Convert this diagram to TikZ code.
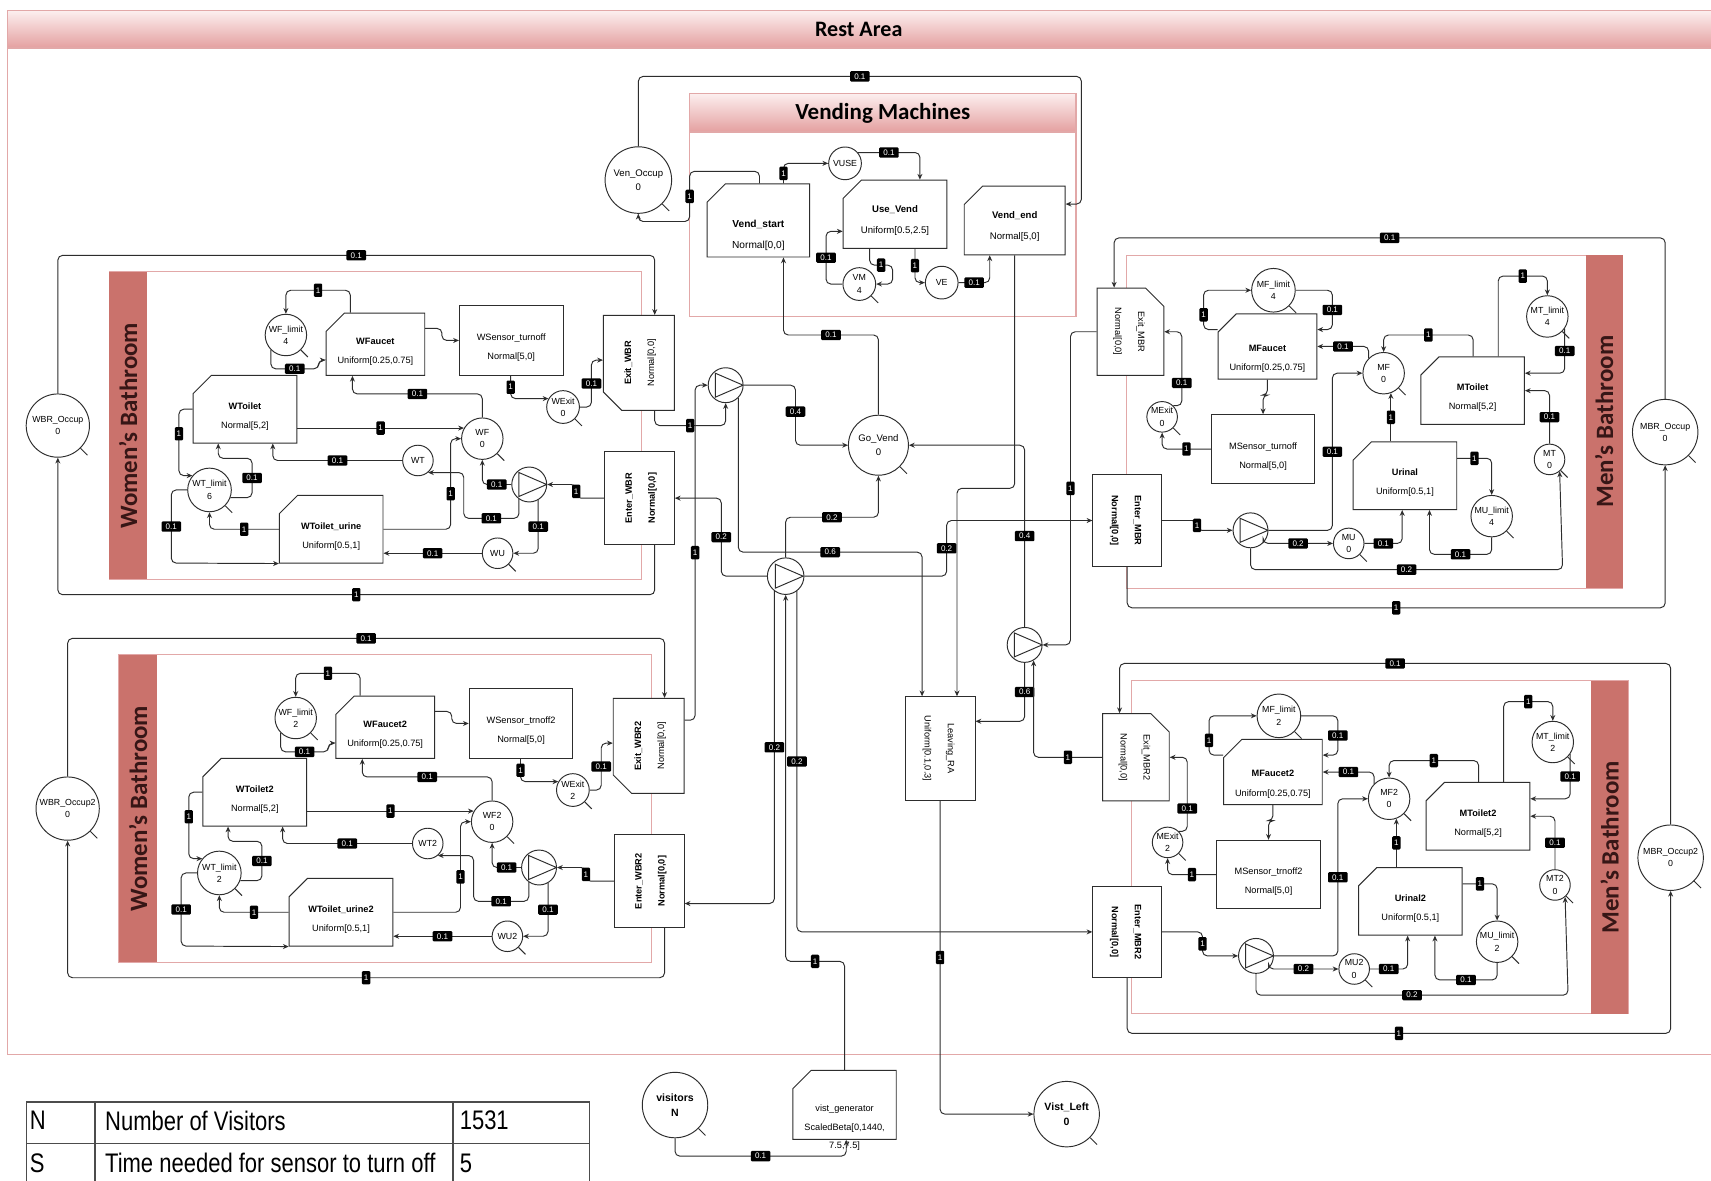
\documentclass[tikz,border=0pt]{standalone}
\usepackage{fontspec}
\usepackage{graphicx}
\setmainfont{Liberation Sans}
\newfontfamily\titlefont{Carlito}
\newfontfamily\narrowfont{Liberation Sans}[FakeStretch=0.82]
\usetikzlibrary{arrows.meta,shapes.misc}

\definecolor{wire}{RGB}{45,45,45}
\definecolor{framepink}{RGB}{226,168,168}
\definecolor{bandtop}{RGB}{252,238,238}
\definecolor{bandbot}{RGB}{228,160,160}
\definecolor{barred}{RGB}{202,114,108}
\definecolor{bartext}{RGB}{55,22,22}

\begin{document}
\begin{tikzpicture}[x=0.02cm, y=-0.02cm,
    arc/.style={draw=wire, line width=0.5pt, rounded corners=2.5pt, -{Stealth[length=3pt,width=2.6pt]}},
    lbl/.style={fill=black, text=white, rounded corners=0.6pt, inner xsep=2.2pt, inner ysep=1.2pt, font=\fontsize{4.2}{4.2}\selectfont},
    one/.style={lbl, inner xsep=1pt, minimum height=7pt},
    place/.style={circle, draw=wire, line width=0.5pt, fill=white, inner sep=0pt, align=center, font=\fontsize{4.6}{6.4}\selectfont},
    actbase/.style={chamfered rectangle, chamfered rectangle corners=north west, chamfered rectangle xsep=6pt, draw=wire, line width=0.5pt, fill=white, align=center, inner sep=0pt, font=\fontsize{4.8}{10}\selectfont},
    boxbase/.style={rectangle, draw=wire, line width=0.5pt, fill=white, align=center, inner sep=0pt, font=\fontsize{4.8}{10}\selectfont},
    act/.style={actbase, execute at begin node=\rule{0pt}{21pt}},
    box/.style={boxbase, execute at begin node=\rule{0pt}{21pt}},
    trans/.style={circle, draw=wire, line width=0.5pt, fill=white, minimum size=0.64cm, inner sep=0pt,
      path picture={\draw[wire, line width=0.5pt] (path picture bounding box.center) ++(-0.19cm,0.22cm) -- ++(0,-0.44cm) -- ++(0.51cm,0.22cm) -- cycle;}},
    tail/.style={draw=wire, line width=0.5pt},
    frame/.style={draw=framepink, line width=0.6pt},
    band/.style={frame, top color=bandtop, bottom color=bandbot},
    bar/.style={fill=barred},
    roomtitle/.style={rotate=90, text=bartext, font=\titlefont\bfseries\fontsize{13}{13}\selectfont},
    cell/.style={anchor=west, inner sep=0pt, font=\narrowfont\fontsize{14}{14}\selectfont},
    tbl/.style={draw=black!70, line width=0.7pt}
  ]
  \useasboundingbox (0,0) rectangle (1568,1082);
  \fill[white] (0,0) rectangle (1568,1082);

  % marco general
  \draw[frame] (7,10) rectangle (1600,966);
  \draw[band] (7,10) rectangle (1600,44);
  \node[font=\titlefont\bfseries\fontsize{11.5}{11.5}\selectfont] (rest) at (787,27) {Rest Area};

  % maquinas expendedoras
  \draw[frame] (632,86) rectangle (986,290);
  \draw[band] (632,86) rectangle (986,121);
  \node[font=\titlefont\bfseries\fontsize{12}{12}\selectfont] (vtitle) at (809,104) {Vending Machines};
  \node[place, minimum size=1.22cm, font=\fontsize{5}{7}\selectfont] (vocc) at (585,165) {Ven\_Occup\\0};
  \node[act, minimum width=1.88cm, minimum height=1.25cm, font=\fontsize{5.3}{11}\selectfont, execute at begin node=\rule{0pt}{30pt}] (vstart) at (695,202) {\textbf{Vend\_start}\\Normal[0,0]};
  \node[place, minimum size=0.6cm] (vuse) at (774.4,149.7) {VUSE};
  \node[act, minimum width=1.9cm, minimum height=1.25cm, font=\fontsize{5}{11}\selectfont] (usevend) at (820.2,196.3) {\textbf{Use\_Vend}\\Uniform[0.5,2.5]};
  \node[place, minimum size=0.6cm] (vm) at (787.5,260.3) {VM\\4};
  \node[place, minimum size=0.6cm] (ve) at (863,259) {VE};
  \node[act, minimum width=1.85cm, minimum height=1.26cm, font=\fontsize{5}{11}\selectfont] (vend) at (929.9,202.1) {\textbf{Vend\_end}\\Normal[5,0]};

  \draw[arc] (vocc.north) |- node[lbl,pos=0.75]{0.1} (991,70) |- (vend.east |- 0,187);
  \draw[arc] (696,0 |- vstart.north) |- (632,157) -- node[one]{1} (632,203) -| (vocc.south);
  \draw[arc] (718,0 |- vstart.north) |- node[one,pos=0.25]{1} (vuse.west);
  \draw[arc] (vuse.40) -| node[lbl,pos=0.25]{0.1} (843,0 |- usevend.north);
  \draw[arc] (797,0 |- usevend.south) |- node[one,pos=0.75]{1} (818,243) |- (vm.east);
  \draw[arc] (vm.west) -| node[lbl,pos=0.75]{0.1} (757,212) -- (usevend.west |- 0,212);
  \draw[arc] (838.5,0 |- usevend.south) |- node[one,pos=0.25]{1} (ve.west);
  \draw[arc] (ve.east) -| node[lbl,pos=0.25]{0.1} (907,0 |- vend.south);

  % banos de mujeres, arriba y abajo
  \foreach \s/\dx/\dy/\sen/\fl/\tl/\ex in {/0/0/turnoff/4/6/0, 2/9/351/trnoff2/2/2/2} {
    \begin{scope}[shift={(\dx,\dy)}]
      \draw[frame] (100,249) rectangle (588,531);
      \fill[bar] (100,249) rectangle (135,531);
      \node[roomtitle] (wtitle\s) at (117.5,390) {Women’s Bathroom};

      \node[place, minimum size=1.16cm] (wocc\s) at (53,390) {WBR\_Occup\s\\0};
      \node[place, minimum size=0.76cm] (wflim\s) at (262,307) {WF\_limit\\\fl};
      \node[act, minimum width=1.72cm, minimum height=1.14cm] (wfau\s) at (344,315.5) {\textbf{WFaucet\s}\\Uniform[0.25,0.75]};
      \node[box, minimum width=1.9cm, minimum height=1.28cm] (wsen\s) at (468.5,312) {WSensor\_\sen\\Normal[5,0]};
      \node[act, minimum width=1.9cm, minimum height=1.24cm] (wtoi\s) at (224.5,375) {\textbf{WToilet\s}\\Normal[5,2]};
      \node[place, minimum size=0.8cm] (wtlim\s) at (192,449) {WT\_limit\\\tl};
      \node[act, minimum width=1.9cm, minimum height=1.24cm] (wuri\s) at (303.5,485) {\textbf{WToilet\_urine\s}\\Uniform[0.5,1]};
      \node[place, minimum size=0.6cm] (wex\s) at (516,373) {WExit\\\ex};
      \node[place, minimum size=0.76cm] (wf\s) at (442,402) {WF\s\\0};
      \node[place, minimum size=0.56cm] (wt\s) at (383,422) {WT\s};
      \node[place, minimum size=0.56cm] (wu\s) at (456,507) {WU\s};
      \node[trans] (wpump\s) at (485,444) {};
      \node[actbase, chamfered rectangle corners=south west, minimum width=1.3cm, minimum height=1.74cm] (wexit\s) at (585.5,332.5)
        {\rotatebox{90}{\begin{tabular}{@{}c@{}}\textbf{Exit\_WBR\s}\\[2pt]Normal[0,0]\end{tabular}}};
      \node[boxbase, minimum width=1.28cm, minimum height=1.7cm] (wenter\s) at (586,456.5)
        {\rotatebox{90}{\begin{tabular}{@{}c@{}}\textbf{Enter\_WBR\s}\\[2pt]\textbf{Normal[0,0]}\end{tabular}}};
      \foreach \p in {wocc,wflim,wtlim,wex,wf,wu}
        \draw[tail] (\p\s.-45) -- ++(-45:0.18cm);

      \draw[arc] (321,0 |- wfau\s.north) |- node[one,pos=0.75]{1} (262,266) -- (wflim\s.north);
      \draw[arc] (wflim\s.-135) |- node[lbl,pos=0.75]{0.1} (292,338) |- (wfau\s.west |- 0,330);
      \draw[arc] (wfau\s.east |- 0,301) -| (405,312) -- (wsen\s.west |- 0,312);
      \draw[arc] (468,0 |- wsen\s.south) |- node[one,pos=0.25]{1} (wex\s.150);
      \draw[arc] (wex\s.east) -| node[lbl,pos=0.75]{0.1} (542,330) -- (wexit\s.west |- 0,330);
      \draw[arc] (wtoi\s.east |- wf\s.150) -- node[one]{1} (wf\s.150);
      \draw[arc] (wf\s.north) |- node[lbl,pos=0.75]{0.1} (323,361) -- (323,0 |- wfau\s.south);
      \draw[arc] (wt\s.west) -| node[lbl,pos=0.25]{0.1} (250,0 |- wtoi\s.south);
      \draw[arc] (wpump\s.west) -| node[lbl,pos=0.25]{0.1} (wf\s.south);
      \draw[arc] (wpump\s.-125) |- node[lbl,pos=0.75]{0.1} (425,475) |- (wt\s.-50);
      \draw[arc] (wuri\s.east) -| node[one,pos=0.75]{1} (413,420) |- (wf\s.west);
      \draw[arc] (wpump\s.-60) |- node[lbl,pos=0.25]{0.1} (wu\s.east);
      \draw[arc] (wu\s.west) -- node[lbl]{0.1} (wuri\s.east |- wu\s.west);
      \draw[arc] (wenter\s.west) -| node[one,pos=0.75]{1} (528,444) -- (wpump\s.east);
      \draw[arc] (wtoi\s.west) -| node[one,pos=0.75]{1} (164,420) |- (wtlim\s.140);
      \draw[arc] (wtlim\s.-20) -| node[lbl,pos=0.75]{0.1} (231,420) -| (200,0 |- wtoi\s.south);
      \draw[arc] (wtlim\s.west) -| node[lbl,pos=0.75]{0.1} (157,516) -- (wuri\s.south west);
      \draw[arc] (wuri\s.west) -| node[one,pos=0.25]{1} (wtlim\s.south);
      \draw[arc] (wocc\s.north) |- node[lbl,pos=0.75]{0.1} (600,234) -- (600,0 |- wexit\s.north);
      \draw[arc] (600,0 |- wenter\s.south) |- node[one,pos=0.75]{1} (53,545) -- (wocc\s.south);
    \end{scope}
  }

  % banos de hombres, arriba y abajo
  \foreach \s/\dx/\dy/\sen/\n/\ex/\enx/\ey in {/0/0/turnoff/4/0/1033/477, 2/5/390/trnoff2/2/2/1028/464} {
    \begin{scope}[shift={(\dx,\dy)}]
      \draw[frame] (1032,234) rectangle (1487,539);
      \fill[bar] (1453,234) rectangle (1487,539);
      \node[roomtitle] (mtitle\s) at (1470,386.5) {Men’s Bathroom};

      \node[place, minimum size=1.2cm] (mocc\s) at (1526,396) {MBR\_Occup\s\\0};
      \node[actbase, chamfered rectangle corners=north east, minimum width=1.22cm, minimum height=1.6cm] (mexit\s) at (1036,304)
        {\rotatebox{-90}{\begin{tabular}{@{}c@{}}Exit\_MBR\s\\[2pt]Normal[0,0]\end{tabular}}};
      \node[boxbase, minimum width=1.26cm, minimum height=1.68cm] (menter\s) at (\enx,\ey)
        {\rotatebox{-90}{\begin{tabular}{@{}c@{}}\textbf{Enter\_MBR\s}\\[2pt]\textbf{Normal[0,0]}\end{tabular}}};
      \node[place, minimum size=0.8cm] (mflim\s) at (1167,266) {MF\_limit\\\n};
      \node[act, minimum width=1.74cm, minimum height=1.1cm, execute at begin node=\rule{0pt}{26pt}] (mfau\s) at (1161.5,317.5) {\textbf{MFaucet\s}\\Uniform[0.25,0.75]};
      \node[place, minimum size=0.56cm] (mex\s) at (1065,382) {MExit\\\ex};
      \node[box, minimum width=1.9cm, minimum height=1.26cm] (msen\s) at (1157.5,411.5) {MSensor\_\sen\\Normal[5,0]};
      \node[place, minimum size=0.76cm] (mf\s) at (1268,342) {MF\s\\0};
      \node[act, minimum width=1.9cm, minimum height=1.24cm] (mtoi\s) at (1349.5,358) {\textbf{MToilet\s}\\Normal[5,2]};
      \node[place, minimum size=0.76cm] (mtlim\s) at (1418,290) {MT\_limit\\\n};
      \node[place, minimum size=0.56cm] (mt\s) at (1420,421) {MT\s\\0};
      \node[act, minimum width=1.9cm, minimum height=1.24cm] (muri\s) at (1287.5,436) {\textbf{Urinal\s}\\Uniform[0.5,1]};
      \node[place, minimum size=0.76cm] (mulim\s) at (1367,473) {MU\_limit\\\n};
      \node[place, minimum size=0.56cm] (mu\s) at (1236,498) {MU\s\\0};
      \node[trans] (mpump\s) at (1146,486) {};
      \foreach \p in {mocc,mflim,mex,mf,mtlim,mt,mulim,mu}
        \draw[tail] (\p\s.-45) -- ++(-45:0.18cm);

      \draw[arc] (mocc\s.north) |- node[lbl,pos=0.75]{0.1} (1021,218) -- (1021,0 |- mexit\s.north);
      \draw[arc] (menter\s.south) |- node[one,pos=0.75]{1} (1526,557) -- (mocc\s.south);
      \draw[arc] (menter\s.east) -| node[one,pos=0.75]{1} (1097,486) -- (mpump\s.west);
      \draw[arc] (mpump\s.east) -| node[lbl,pos=0.75]{0.1} (1221,0 |- mf\s.west) -- (mf\s.west);
      \draw[arc] (mpump\s.-45) |- node[lbl,pos=0.75]{0.2} (mu\s.west);
      \draw[arc] (mu\s.east) -| node[lbl,pos=0.25]{0.1} (1285,0 |- muri\s.south);
      \draw[arc] (mpump\s.south) |- node[lbl,pos=0.75]{0.2} (1432,522) -- (mt\s.-50);
      \draw[arc] (mulim\s.south) |- node[lbl,pos=0.75]{0.1} (1310,508) -- (1310,0 |- muri\s.south);
      \draw[arc] (muri\s.east |- 0,420) -| node[one,pos=0.25]{1} (mulim\s.north);
      \draw[arc] (mf\s.-70 |- muri\s.north) -- node[one]{1} (mf\s.-70);
      \draw[arc] (1350,0 |- mtoi\s.north) -- (1350,307) -| node[one,pos=0.25]{1} (mf\s.north);
      \draw[arc] (1373,0 |- mtoi\s.north) -- (1373,253) -| node[one,pos=0.25]{1} (mtlim\s.north);
      \draw[arc] (mtlim\s.-35) |- node[lbl,pos=0.25]{0.1} (mtoi\s.east |- 0,342);
      \draw[arc] (mt\s.north) |- node[lbl,pos=0.25]{0.1} (mtoi\s.east);
      \draw[arc] (mf\s.135) |- node[lbl,pos=0.75]{0.1} (mfau\s.east);
      \draw[arc] (mfau\s.west |- 0,302) -| node[one,pos=0.75]{1} (1103,275) |- (mflim\s.west);
      \draw[arc] (mflim\s.east) -| node[lbl,pos=0.75]{0.1} (1221,302) -- (mfau\s.east |- 0,302);
      \draw[arc] (mfau\s.south) |- (msen\s.north |- 0,362) -- (msen\s.north);
      \draw[arc] (msen\s.west) -| node[one,pos=0.25]{1} (mex\s.south);
      \draw[arc] (mex\s.45) -| node[lbl,pos=0.75]{0.1} (1083,330) |- (mexit\s.east);
    \end{scope}
  }

  % transiciones del centro
  \node[place, minimum size=1.1cm, font=\fontsize{5}{7}\selectfont] (govend) at (805,408) {Go\_Vend\\0};
  \node[trans] (t1) at (665,353) {};
  \node[trans, minimum size=0.67cm] (t2) at (720,528) {};
  \node[trans] (t3) at (939,591) {};
  \node[boxbase, minimum width=1.28cm, minimum height=1.9cm] (leave) at (861.5,686)
    {\rotatebox{-90}{\begin{tabular}{@{}c@{}}Leaving\_RA\\[2pt]Uniform[0.1,0.3]\end{tabular}}};
  \node[act, minimum width=1.88cm, minimum height=1.26cm, execute at begin node=\rule{0pt}{28pt},
    label={[font=\fontsize{4.8}{5}\selectfont, inner sep=0pt, yshift=-1pt]below:{7.5,7.5]}}] (vgen) at (774,1012.5) {vist\_generator\\ScaledBeta[0,1440,};
  \node[place, minimum size=1.2cm, font=\bfseries\fontsize{5.5}{8}\selectfont] (visitors) at (618.6,1012.7) {visitors\\N};
  \node[place, minimum size=1.2cm, font=\bfseries\fontsize{5.5}{8}\selectfont] (vleft) at (977.5,1021) {Vist\_Left\\0};
  \foreach \p in {vocc,vm,govend,visitors,vleft}
    \draw[tail] (\p.-45) -- ++(-45:0.18cm);

  \draw[arc] (govend.north) |- node[lbl,pos=0.75]{0.1} (718,307) -- (718,0 |- vstart.south);
  \draw[arc] (vend.south) |- (877,447.5) -- (877,0 |- leave.north);
  \draw[arc] (600,0 |- wexit.south) -- (600,390) -| node[one,pos=0.25]{1} (t1.south);
  \draw[arc] (wexit2.east |- 0,660) -| node[one,pos=0.75]{1} (637,0 |- t1.west) -- (t1.west);
  \draw[arc] (t1.east) -| node[lbl,pos=0.72]{0.4} (729,0 |- govend.west) -- (govend.west);
  \draw[arc] (t1.-45) |- node[lbl,pos=0.75]{0.6} (845,506) -- (845,0 |- leave.north);
  \draw[arc] (t2.west) -| node[lbl,pos=0.75]{0.2} (661,0 |- wenter.east) -- (wenter.east);
  \draw[arc] (t2.north) |- node[lbl,pos=0.75]{0.2} (govend.south |- 0,474) -- (govend.south);
  \draw[arc] (t2.east) -| node[lbl,pos=0.75]{0.2} (867.5,0 |- menter.west) -- (menter.west);
  \draw[arc] (t3.north) |- node[lbl,pos=0.25]{0.4} (govend.east);
  \draw[arc] (t3.south) |- node[lbl,pos=0.25]{0.6} (leave.east |- 0,661);
  \draw[arc] (mexit.west) -| node[one,pos=0.75]{1} (981,0 |- t3.east) -- (t3.east);
  \draw[arc] (mexit2.west) -| node[one,pos=0.25]{1} (t3.-60);
  \draw[arc] (t2.-127) |- node[lbl,pos=0.25]{0.2} (wenter2.east |- 0,828);
  \draw[arc] (t2.-53) |- node[lbl,pos=0.25]{0.2} (menter2.west);
  \draw[arc] (vgen.north) |- node[one,pos=0.75]{1} (t2.south |- 0,881) -- (t2.south);
  \draw[arc] (visitors.south) |- node[lbl,pos=0.75]{0.1} (775.5,1059.5) -- (775.5,0 |- vgen.south);
  \draw[arc] (leave.south) |- node[one,pos=0.25]{1} (vleft.west);

  % tabla de parametros
  \draw[tbl] (24,1010) rectangle (540,1110);
  \draw[tbl] (87,1010) -- (87,1110) (415,1010) -- (415,1110) (24,1048) -- (540,1048);
  \node[cell] (nkey) at (27,1027) {N};
  \node[cell] (ntext) at (96,1027) {Number of Visitors};
  \node[cell] (nval) at (421,1027) {1531};
  \node[cell] (skey) at (27,1066) {S};
  \node[cell] (stext) at (96,1066) {Time needed for sensor to turn off};
  \node[cell] (sval) at (421,1066) {5};
\end{tikzpicture}
\end{document}
